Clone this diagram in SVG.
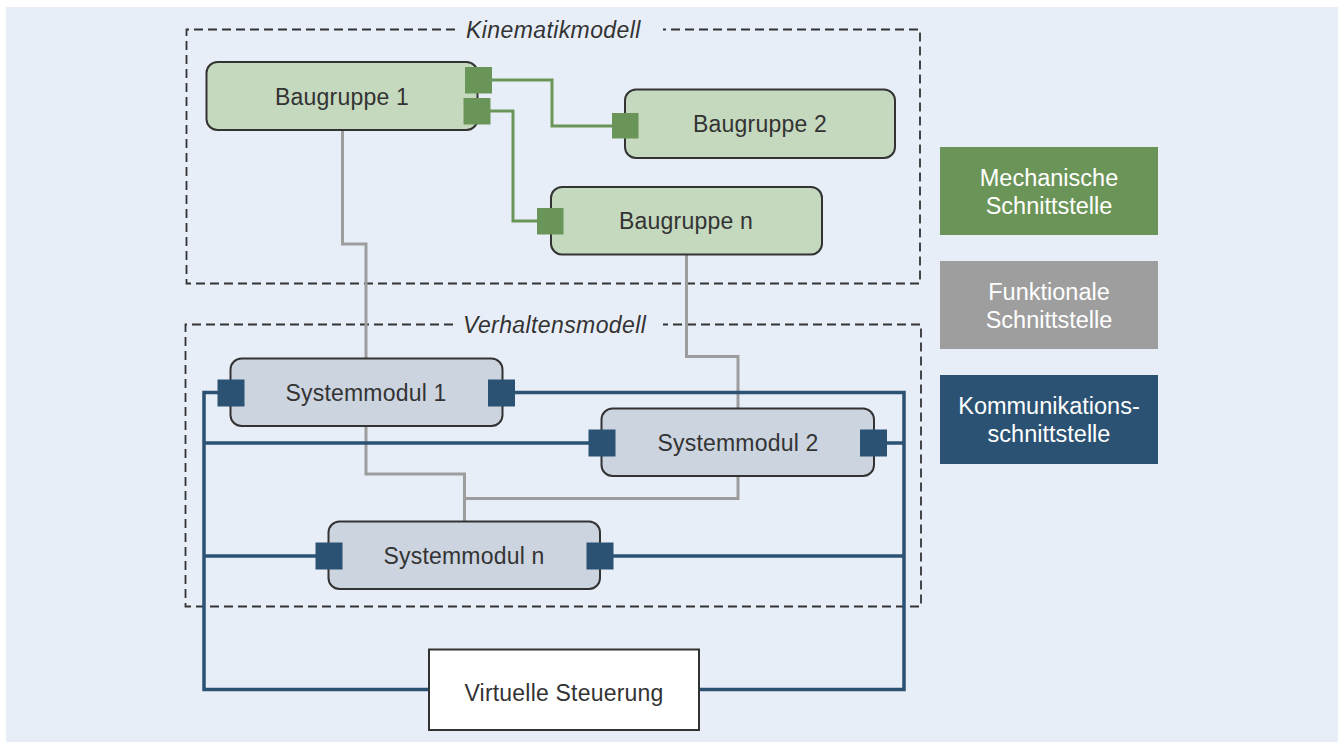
<svg xmlns="http://www.w3.org/2000/svg" width="1341" height="742" viewBox="0 0 1341 742">
<style>
.bg{fill:#e8eef8}
.frame{fill:none;stroke:#333;stroke-width:1.8;stroke-dasharray:9 5}
.flabel{font-family:"Liberation Sans",Arial,sans-serif;font-size:23px;font-style:italic;fill:#333;letter-spacing:0.4px}
.bg-node{fill:#c5d9bf;stroke:#333;stroke-width:2}
.sm-node{fill:#ccd4df;stroke:#333;stroke-width:2}
.vs-node{fill:#fff;stroke:#333;stroke-width:2}
.t{font-family:"Liberation Sans",Arial,sans-serif;font-size:23px;fill:#333;text-anchor:middle;letter-spacing:0.2px}
.lt{font-family:"Liberation Sans",Arial,sans-serif;font-size:23.5px;fill:#fff;text-anchor:middle}
.gp{fill:#6a9558}
.bp{fill:#2b5273}
.mech{fill:none;stroke:#6a9558;stroke-width:3}
.func{fill:none;stroke:#9d9d9d;stroke-width:3}
.comm{fill:none;stroke:#2b5273;stroke-width:3.5}
</style>
<rect class="bg" x="6" y="7" width="1332" height="735"/>

<g id="frames">
<path class="frame" d="M455,29.5 H186.5 V283.5 H920 V29.5 H663"/>
<text class="flabel" x="466" y="38">Kinematikmodell</text>
<path class="frame" d="M453,324.5 H185.5 V606.5 H921 V324.5 H663"/>
<text class="flabel" x="463" y="333">Verhaltensmodell</text>
</g>

<g id="connectors">
<path class="func" d="M342.5,130 V244 H366 V358"/>
<path class="func" d="M686.5,254 V356.5 H738 V408"/>
<path class="func" d="M366,426 V474 H464.5 V521"/>
<path class="func" d="M738,476 V498.5 H464.5"/>
<path class="mech" d="M491,80 H552 V126 H612"/>
<path class="mech" d="M490,111 H513 V221 H537"/>
<path class="comm" d="M218,392.5 H204 V689.5 H429"/>
<path class="comm" d="M204,443 H589"/>
<path class="comm" d="M204,556 H316"/>
<path class="comm" d="M515,392.5 H904 V689.5 H699"/>
<path class="comm" d="M887,443 H904"/>
<path class="comm" d="M613,556 H904"/>
</g>

<g id="baugruppe1">
<rect class="bg-node" x="206.5" y="62" width="271" height="68" rx="11"/>
<text class="t" x="342" y="104.5">Baugruppe 1</text>
<rect class="gp" x="465" y="67" width="27" height="26.5"/>
<rect class="gp" x="463.5" y="98" width="27" height="26.5"/>
</g>
<g id="baugruppe2">
<rect class="bg-node" x="625" y="89.5" width="270" height="68.5" rx="11"/>
<text class="t" x="760" y="132">Baugruppe 2</text>
<rect class="gp" x="612" y="113" width="26.5" height="25.5"/>
</g>
<g id="baugruppen">
<rect class="bg-node" x="551" y="187" width="271" height="67.5" rx="11"/>
<text class="t" x="686" y="229">Baugruppe n</text>
<rect class="gp" x="537" y="208" width="26.5" height="26.5"/>
</g>

<g id="systemmodul1">
<rect class="sm-node" x="230.5" y="358.5" width="272" height="67.5" rx="11"/>
<text class="t" x="366" y="400.5">Systemmodul 1</text>
<rect class="bp" x="217.5" y="379.5" width="27" height="27"/>
<rect class="bp" x="488" y="379.5" width="27" height="27"/>
</g>
<g id="systemmodul2">
<rect class="sm-node" x="601.5" y="408.5" width="272.5" height="67.5" rx="11"/>
<text class="t" x="738" y="450.5">Systemmodul 2</text>
<rect class="bp" x="588.5" y="429.5" width="27" height="27"/>
<rect class="bp" x="860" y="429.5" width="27" height="27"/>
</g>
<g id="systemmoduln">
<rect class="sm-node" x="328.5" y="521.5" width="271.5" height="67.5" rx="11"/>
<text class="t" x="464" y="563.5">Systemmodul n</text>
<rect class="bp" x="315.5" y="542.5" width="27" height="27"/>
<rect class="bp" x="586.5" y="542.5" width="27" height="27"/>
</g>

<g id="virtuelle-steuerung">
<rect class="vs-node" x="429" y="649.5" width="270" height="80.5"/>
<text class="t" x="564" y="701">Virtuelle Steuerung</text>
</g>

<g id="legend-mech">
<rect x="940" y="147" width="218" height="88" fill="#6b9558"/>
<text class="lt" x="1049" y="186">Mechanische</text>
<text class="lt" x="1049" y="214">Schnittstelle</text>
</g>
<g id="legend-func">
<rect x="940" y="261" width="218" height="88" fill="#9e9e9e"/>
<text class="lt" x="1049" y="300">Funktionale</text>
<text class="lt" x="1049" y="328">Schnittstelle</text>
</g>
<g id="legend-comm">
<rect x="940" y="375" width="218" height="89" fill="#2b5273"/>
<text class="lt" x="1049" y="414">Kommunikations-</text>
<text class="lt" x="1049" y="442">schnittstelle</text>
</g>
</svg>
